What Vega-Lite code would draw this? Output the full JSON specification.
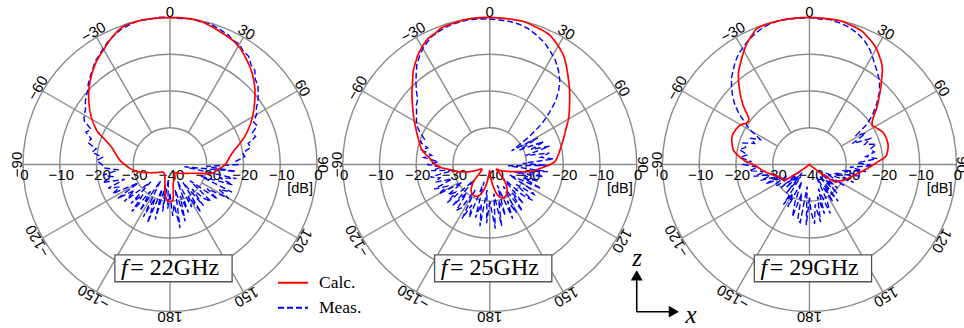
{
  "$schema": "https://vega.github.io/schema/vega-lite/v6.json",
  "width": 964,
  "height": 328,
  "padding": 0,
  "autosize": {"type": "none"},
  "background": "white",
  "config": {"view": {"stroke": null}},
  "encoding": {
    "x": {"field": "x", "type": "quantitative", "scale": {"domain": [-46.259, 216.054], "nice": false, "zero": false}, "axis": null},
    "y": {"field": "y", "type": "quantitative", "scale": {"domain": [-44.49, 44.762], "nice": false, "zero": false}, "axis": null}
  },
  "datasets": {
    "rings": [{"r": 10, "p": [0, 1, 2]}, {"r": 20, "p": [0, 1, 2]}, {"r": 30, "p": [0, 1, 2]}, {"r": 40, "p": [0, 1, 2]}],
    "spokes": [{"a": 0, "p": [0, 1, 2]}, {"a": 30, "p": [0, 1, 2]}, {"a": 60, "p": [0, 1, 2]}, {"a": 120, "p": [0, 1, 2]}, {"a": 150, "p": [0, 1, 2]}, {"a": 180, "p": [0, 1, 2]}, {"a": -30, "p": [0, 1, 2]}, {"a": -60, "p": [0, 1, 2]}, {"a": -120, "p": [0, 1, 2]}, {"a": -150, "p": [0, 1, 2]}],
    "angleLabels": [{"a": 0, "t": "0", "p": [0, 1, 2]}, {"a": 30, "t": "30", "p": [0, 1, 2]}, {"a": 60, "t": "60", "p": [0, 1, 2]}, {"a": 90, "t": "90", "p": [0, 1, 2]}, {"a": 120, "t": "120", "p": [0, 1, 2]}, {"a": 150, "t": "150", "p": [0, 1, 2]}, {"a": 180, "t": "180", "p": [0, 1, 2]}, {"a": -150, "t": "−150", "p": [0, 1, 2]}, {"a": -120, "t": "−120", "p": [0, 1, 2]}, {"a": -90, "t": "−90", "p": [0, 1, 2]}, {"a": -60, "t": "−60", "p": [0, 1, 2]}, {"a": -30, "t": "−30", "p": [0, 1, 2]}],
    "dbLabels": [{"db": 0, "k": -1, "t": "0", "p": [0, 1, 2]}, {"db": -10, "k": -1, "t": "−10", "p": [0, 1, 2]}, {"db": -20, "k": -1, "t": "−20", "p": [0, 1, 2]}, {"db": -30, "k": -1, "t": "−30", "p": [0, 1, 2]}, {"db": -40, "k": 0, "t": "−40", "p": [0, 1, 2]}, {"db": -30, "k": 1, "t": "−30", "p": [0, 1, 2]}, {"db": -20, "k": 1, "t": "−20", "p": [0, 1, 2]}, {"db": -10, "k": 1, "t": "−10", "p": [0, 1, 2]}, {"db": 0, "k": 1, "t": "0", "p": [0, 1, 2]}],
    "panels": [{"p": 0, "f": "22GHz"}, {"p": 1, "f": "25GHz"}, {"p": 2, "f": "29GHz"}],
    "pattern": [
      {"p":0,"s":"Calc.","a":-180,"d":-29.9},{"p":0,"s":"Calc.","a":-175,"d":-30.3},{"p":0,"s":"Calc.","a":-170,"d":-32.2},{"p":0,"s":"Calc.","a":-165,"d":-34.7},{"p":0,"s":"Calc.","a":-160,"d":-36},{"p":0,"s":"Calc.","a":-150,"d":-37},{"p":0,"s":"Calc.","a":-140,"d":-37.2},{"p":0,"s":"Calc.","a":-130,"d":-36.8},{"p":0,"s":"Calc.","a":-120,"d":-35.6},{"p":0,"s":"Calc.","a":-110,"d":-33.5},{"p":0,"s":"Calc.","a":-103,"d":-31.2},{"p":0,"s":"Calc.","a":-96,"d":-29.2},{"p":0,"s":"Calc.","a":-87,"d":-26.8},{"p":0,"s":"Calc.","a":-80,"d":-25.2},{"p":0,"s":"Calc.","a":-74,"d":-23.6},{"p":0,"s":"Calc.","a":-69,"d":-21},{"p":0,"s":"Calc.","a":-65,"d":-18},{"p":0,"s":"Calc.","a":-58,"d":-14.6},{"p":0,"s":"Calc.","a":-50,"d":-11.1},{"p":0,"s":"Calc.","a":-43,"d":-8.3},{"p":0,"s":"Calc.","a":-36,"d":-5.7},{"p":0,"s":"Calc.","a":-30,"d":-3.9},{"p":0,"s":"Calc.","a":-24,"d":-1.8},{"p":0,"s":"Calc.","a":-18,"d":-0.3},{"p":0,"s":"Calc.","a":-10,"d":0},{"p":0,"s":"Calc.","a":0,"d":0},{"p":0,"s":"Calc.","a":8,"d":0},{"p":0,"s":"Calc.","a":14,"d":-0.4},{"p":0,"s":"Calc.","a":24,"d":-1.8},{"p":0,"s":"Calc.","a":30,"d":-2.8},{"p":0,"s":"Calc.","a":35,"d":-4.3},{"p":0,"s":"Calc.","a":42,"d":-6.6},{"p":0,"s":"Calc.","a":50,"d":-9.8},{"p":0,"s":"Calc.","a":60,"d":-14.1},{"p":0,"s":"Calc.","a":69,"d":-18.1},{"p":0,"s":"Calc.","a":80,"d":-22.9},{"p":0,"s":"Calc.","a":90,"d":-25},{"p":0,"s":"Calc.","a":96,"d":-27},{"p":0,"s":"Calc.","a":102,"d":-28.4},{"p":0,"s":"Calc.","a":108,"d":-32.3},{"p":0,"s":"Calc.","a":118,"d":-34.9},{"p":0,"s":"Calc.","a":135,"d":-36.6},{"p":0,"s":"Calc.","a":150,"d":-37.4},{"p":0,"s":"Calc.","a":160,"d":-36},{"p":0,"s":"Calc.","a":170,"d":-34.8},{"p":0,"s":"Calc.","a":175,"d":-30.5},{"p":0,"s":"Calc.","a":180,"d":-29.9},
      {"p":0,"s":"Meas.","a":-180,"d":-32},{"p":0,"s":"Meas.","a":-177,"d":-28},{"p":0,"s":"Meas.","a":-174,"d":-36},{"p":0,"s":"Meas.","a":-171,"d":-27},{"p":0,"s":"Meas.","a":-168,"d":-34},{"p":0,"s":"Meas.","a":-165,"d":-24.5},{"p":0,"s":"Meas.","a":-162,"d":-33},{"p":0,"s":"Meas.","a":-159,"d":-23},{"p":0,"s":"Meas.","a":-156,"d":-30},{"p":0,"s":"Meas.","a":-153,"d":-24},{"p":0,"s":"Meas.","a":-150,"d":-35},{"p":0,"s":"Meas.","a":-147,"d":-25},{"p":0,"s":"Meas.","a":-144,"d":-31},{"p":0,"s":"Meas.","a":-141,"d":-23.5},{"p":0,"s":"Meas.","a":-138,"d":-29},{"p":0,"s":"Meas.","a":-135,"d":-25},{"p":0,"s":"Meas.","a":-132,"d":-33},{"p":0,"s":"Meas.","a":-129,"d":-24},{"p":0,"s":"Meas.","a":-126,"d":-28},{"p":0,"s":"Meas.","a":-123,"d":-23},{"p":0,"s":"Meas.","a":-120,"d":-30},{"p":0,"s":"Meas.","a":-117,"d":-22.5},{"p":0,"s":"Meas.","a":-114,"d":-25},{"p":0,"s":"Meas.","a":-111,"d":-22},{"p":0,"s":"Meas.","a":-108,"d":-27},{"p":0,"s":"Meas.","a":-105,"d":-21},{"p":0,"s":"Meas.","a":-102,"d":-24},{"p":0,"s":"Meas.","a":-99,"d":-21.5},{"p":0,"s":"Meas.","a":-96,"d":-26},{"p":0,"s":"Meas.","a":-93,"d":-22},{"p":0,"s":"Meas.","a":-90,"d":-21.5},{"p":0,"s":"Meas.","a":-87,"d":-20},{"p":0,"s":"Meas.","a":-84,"d":-21.5},{"p":0,"s":"Meas.","a":-81,"d":-18.5},{"p":0,"s":"Meas.","a":-78,"d":-19.5},{"p":0,"s":"Meas.","a":-75,"d":-16.8},{"p":0,"s":"Meas.","a":-72,"d":-17.5},{"p":0,"s":"Meas.","a":-69,"d":-15.5},{"p":0,"s":"Meas.","a":-66,"d":-16.5},{"p":0,"s":"Meas.","a":-63,"d":-13.8},{"p":0,"s":"Meas.","a":-60,"d":-13},{"p":0,"s":"Meas.","a":-57,"d":-12.6},{"p":0,"s":"Meas.","a":-54,"d":-11.5},{"p":0,"s":"Meas.","a":-51,"d":-10.6},{"p":0,"s":"Meas.","a":-48,"d":-9.9},{"p":0,"s":"Meas.","a":-45,"d":-8.6},{"p":0,"s":"Meas.","a":-42,"d":-7.6},{"p":0,"s":"Meas.","a":-39,"d":-6.6},{"p":0,"s":"Meas.","a":-36,"d":-5.3},{"p":0,"s":"Meas.","a":-33,"d":-4.6},{"p":0,"s":"Meas.","a":-30,"d":-3.6},{"p":0,"s":"Meas.","a":-27,"d":-2.6},{"p":0,"s":"Meas.","a":-24,"d":-1.9},{"p":0,"s":"Meas.","a":-20,"d":-0.9},{"p":0,"s":"Meas.","a":-16,"d":-0.4},{"p":0,"s":"Meas.","a":-12,"d":0.1},{"p":0,"s":"Meas.","a":-8,"d":-0.1},{"p":0,"s":"Meas.","a":-4,"d":0.2},{"p":0,"s":"Meas.","a":0,"d":0},{"p":0,"s":"Meas.","a":4,"d":-0.2},{"p":0,"s":"Meas.","a":8,"d":0.1},{"p":0,"s":"Meas.","a":12,"d":-0.3},{"p":0,"s":"Meas.","a":16,"d":-0.2},{"p":0,"s":"Meas.","a":20,"d":-0.8},{"p":0,"s":"Meas.","a":24,"d":-1.3},{"p":0,"s":"Meas.","a":27,"d":-2.1},{"p":0,"s":"Meas.","a":30,"d":-2.2},{"p":0,"s":"Meas.","a":33,"d":-3.3},{"p":0,"s":"Meas.","a":36,"d":-3.6},{"p":0,"s":"Meas.","a":39,"d":-5},{"p":0,"s":"Meas.","a":42,"d":-5.5},{"p":0,"s":"Meas.","a":45,"d":-7.2},{"p":0,"s":"Meas.","a":48,"d":-7.8},{"p":0,"s":"Meas.","a":51,"d":-9.1},{"p":0,"s":"Meas.","a":54,"d":-10.4},{"p":0,"s":"Meas.","a":57,"d":-12},{"p":0,"s":"Meas.","a":60,"d":-12.8},{"p":0,"s":"Meas.","a":63,"d":-14.5},{"p":0,"s":"Meas.","a":66,"d":-14},{"p":0,"s":"Meas.","a":69,"d":-16},{"p":0,"s":"Meas.","a":72,"d":-15.5},{"p":0,"s":"Meas.","a":75,"d":-18},{"p":0,"s":"Meas.","a":78,"d":-17.5},{"p":0,"s":"Meas.","a":81,"d":-20},{"p":0,"s":"Meas.","a":84,"d":-19.5},{"p":0,"s":"Meas.","a":87,"d":-22},{"p":0,"s":"Meas.","a":90,"d":-21.5},{"p":0,"s":"Meas.","a":93,"d":-30},{"p":0,"s":"Meas.","a":96,"d":-22},{"p":0,"s":"Meas.","a":99,"d":-36},{"p":0,"s":"Meas.","a":102,"d":-21.5},{"p":0,"s":"Meas.","a":105,"d":-26},{"p":0,"s":"Meas.","a":108,"d":-22},{"p":0,"s":"Meas.","a":111,"d":-31},{"p":0,"s":"Meas.","a":114,"d":-21.5},{"p":0,"s":"Meas.","a":117,"d":-25},{"p":0,"s":"Meas.","a":120,"d":-21.5},{"p":0,"s":"Meas.","a":123,"d":-28},{"p":0,"s":"Meas.","a":126,"d":-24},{"p":0,"s":"Meas.","a":129,"d":-33},{"p":0,"s":"Meas.","a":132,"d":-25},{"p":0,"s":"Meas.","a":135,"d":-27},{"p":0,"s":"Meas.","a":138,"d":-31},{"p":0,"s":"Meas.","a":141,"d":-25.5},{"p":0,"s":"Meas.","a":144,"d":-34},{"p":0,"s":"Meas.","a":147,"d":-24.5},{"p":0,"s":"Meas.","a":150,"d":-30},{"p":0,"s":"Meas.","a":153,"d":-27},{"p":0,"s":"Meas.","a":156,"d":-35},{"p":0,"s":"Meas.","a":159,"d":-26},{"p":0,"s":"Meas.","a":162,"d":-31},{"p":0,"s":"Meas.","a":165,"d":-24},{"p":0,"s":"Meas.","a":168,"d":-33},{"p":0,"s":"Meas.","a":171,"d":-22.5},{"p":0,"s":"Meas.","a":174,"d":-29},{"p":0,"s":"Meas.","a":177,"d":-26},{"p":0,"s":"Meas.","a":180,"d":-32},
      {"p":1,"s":"Calc.","a":-180,"d":-38.5},{"p":1,"s":"Calc.","a":-176,"d":-37.5},{"p":1,"s":"Calc.","a":-170,"d":-34.3},{"p":1,"s":"Calc.","a":-163,"d":-31.5},{"p":1,"s":"Calc.","a":-155,"d":-30.5},{"p":1,"s":"Calc.","a":-145,"d":-31.2},{"p":1,"s":"Calc.","a":-137,"d":-33.5},{"p":1,"s":"Calc.","a":-130,"d":-36.5},{"p":1,"s":"Calc.","a":-123,"d":-37.5},{"p":1,"s":"Calc.","a":-116,"d":-37},{"p":1,"s":"Calc.","a":-110,"d":-34.3},{"p":1,"s":"Calc.","a":-103,"d":-31.2},{"p":1,"s":"Calc.","a":-99,"d":-30},{"p":1,"s":"Calc.","a":-94,"d":-27},{"p":1,"s":"Calc.","a":-90,"d":-25.2},{"p":1,"s":"Calc.","a":-84,"d":-23.5},{"p":1,"s":"Calc.","a":-78,"d":-21.2},{"p":1,"s":"Calc.","a":-72,"d":-19.8},{"p":1,"s":"Calc.","a":-67,"d":-18.5},{"p":1,"s":"Calc.","a":-62,"d":-17},{"p":1,"s":"Calc.","a":-58,"d":-15.6},{"p":1,"s":"Calc.","a":-52,"d":-13.3},{"p":1,"s":"Calc.","a":-47.5,"d":-11.3},{"p":1,"s":"Calc.","a":-43,"d":-9.2},{"p":1,"s":"Calc.","a":-39,"d":-7},{"p":1,"s":"Calc.","a":-35,"d":-5.2},{"p":1,"s":"Calc.","a":-32.6,"d":-4.1},{"p":1,"s":"Calc.","a":-27,"d":-2.1},{"p":1,"s":"Calc.","a":-22,"d":-1.2},{"p":1,"s":"Calc.","a":-18.5,"d":-0.5},{"p":1,"s":"Calc.","a":-9,"d":0},{"p":1,"s":"Calc.","a":0,"d":0},{"p":1,"s":"Calc.","a":12,"d":0},{"p":1,"s":"Calc.","a":18,"d":-0.5},{"p":1,"s":"Calc.","a":24,"d":-1.05},{"p":1,"s":"Calc.","a":28,"d":-2.1},{"p":1,"s":"Calc.","a":32,"d":-3.4},{"p":1,"s":"Calc.","a":35,"d":-4.6},{"p":1,"s":"Calc.","a":38,"d":-6.1},{"p":1,"s":"Calc.","a":42,"d":-8.1},{"p":1,"s":"Calc.","a":47,"d":-10.3},{"p":1,"s":"Calc.","a":53,"d":-12.8},{"p":1,"s":"Calc.","a":59,"d":-14.9},{"p":1,"s":"Calc.","a":65,"d":-17.1},{"p":1,"s":"Calc.","a":71,"d":-18.8},{"p":1,"s":"Calc.","a":77,"d":-20.2},{"p":1,"s":"Calc.","a":82,"d":-21.2},{"p":1,"s":"Calc.","a":88,"d":-22.5},{"p":1,"s":"Calc.","a":94,"d":-26},{"p":1,"s":"Calc.","a":100,"d":-29},{"p":1,"s":"Calc.","a":105,"d":-32.6},{"p":1,"s":"Calc.","a":110,"d":-34.4},{"p":1,"s":"Calc.","a":118,"d":-36.5},{"p":1,"s":"Calc.","a":125,"d":-37.8},{"p":1,"s":"Calc.","a":132,"d":-36.5},{"p":1,"s":"Calc.","a":138,"d":-34},{"p":1,"s":"Calc.","a":144,"d":-32},{"p":1,"s":"Calc.","a":150,"d":-30.8},{"p":1,"s":"Calc.","a":156,"d":-30.2},{"p":1,"s":"Calc.","a":162,"d":-30.6},{"p":1,"s":"Calc.","a":167,"d":-32},{"p":1,"s":"Calc.","a":172,"d":-34.5},{"p":1,"s":"Calc.","a":176,"d":-36.8},{"p":1,"s":"Calc.","a":180,"d":-38.5},
      {"p":1,"s":"Meas.","a":-180,"d":-30},{"p":1,"s":"Meas.","a":-177,"d":-24},{"p":1,"s":"Meas.","a":-174,"d":-33},{"p":1,"s":"Meas.","a":-171,"d":-23},{"p":1,"s":"Meas.","a":-168,"d":-29},{"p":1,"s":"Meas.","a":-165,"d":-25},{"p":1,"s":"Meas.","a":-162,"d":-35},{"p":1,"s":"Meas.","a":-159,"d":-24.5},{"p":1,"s":"Meas.","a":-156,"d":-28},{"p":1,"s":"Meas.","a":-153,"d":-23.5},{"p":1,"s":"Meas.","a":-150,"d":-32},{"p":1,"s":"Meas.","a":-147,"d":-26},{"p":1,"s":"Meas.","a":-144,"d":-24.5},{"p":1,"s":"Meas.","a":-141,"d":-30},{"p":1,"s":"Meas.","a":-138,"d":-25},{"p":1,"s":"Meas.","a":-135,"d":-34},{"p":1,"s":"Meas.","a":-132,"d":-24.5},{"p":1,"s":"Meas.","a":-129,"d":-28},{"p":1,"s":"Meas.","a":-126,"d":-26},{"p":1,"s":"Meas.","a":-123,"d":-31},{"p":1,"s":"Meas.","a":-120,"d":-24},{"p":1,"s":"Meas.","a":-117,"d":-27},{"p":1,"s":"Meas.","a":-114,"d":-23.5},{"p":1,"s":"Meas.","a":-111,"d":-29},{"p":1,"s":"Meas.","a":-108,"d":-24.5},{"p":1,"s":"Meas.","a":-105,"d":-26},{"p":1,"s":"Meas.","a":-102,"d":-23.5},{"p":1,"s":"Meas.","a":-99,"d":-30},{"p":1,"s":"Meas.","a":-96,"d":-24},{"p":1,"s":"Meas.","a":-93,"d":-27},{"p":1,"s":"Meas.","a":-90,"d":-23},{"p":1,"s":"Meas.","a":-87,"d":-26},{"p":1,"s":"Meas.","a":-84,"d":-22},{"p":1,"s":"Meas.","a":-81,"d":-24},{"p":1,"s":"Meas.","a":-78,"d":-21},{"p":1,"s":"Meas.","a":-75,"d":-22.5},{"p":1,"s":"Meas.","a":-72,"d":-20},{"p":1,"s":"Meas.","a":-69,"d":-21},{"p":1,"s":"Meas.","a":-66,"d":-19.5},{"p":1,"s":"Meas.","a":-63,"d":-18},{"p":1,"s":"Meas.","a":-60,"d":-17},{"p":1,"s":"Meas.","a":-57,"d":-16.2},{"p":1,"s":"Meas.","a":-54,"d":-15.4},{"p":1,"s":"Meas.","a":-51,"d":-14.3},{"p":1,"s":"Meas.","a":-48,"d":-13.6},{"p":1,"s":"Meas.","a":-45,"d":-11.8},{"p":1,"s":"Meas.","a":-42,"d":-10},{"p":1,"s":"Meas.","a":-39,"d":-8.2},{"p":1,"s":"Meas.","a":-36,"d":-6.3},{"p":1,"s":"Meas.","a":-33,"d":-4.9},{"p":1,"s":"Meas.","a":-30,"d":-3.6},{"p":1,"s":"Meas.","a":-27,"d":-2.6},{"p":1,"s":"Meas.","a":-24,"d":-1.7},{"p":1,"s":"Meas.","a":-20,"d":-1.1},{"p":1,"s":"Meas.","a":-16,"d":-0.6},{"p":1,"s":"Meas.","a":-12,"d":-0.4},{"p":1,"s":"Meas.","a":-8,"d":-0.2},{"p":1,"s":"Meas.","a":-4,"d":-0.3},{"p":1,"s":"Meas.","a":0,"d":-0.4},{"p":1,"s":"Meas.","a":4,"d":-0.6},{"p":1,"s":"Meas.","a":8,"d":-0.7},{"p":1,"s":"Meas.","a":12,"d":-1},{"p":1,"s":"Meas.","a":16,"d":-1.6},{"p":1,"s":"Meas.","a":20,"d":-2.6},{"p":1,"s":"Meas.","a":24,"d":-3.6},{"p":1,"s":"Meas.","a":28,"d":-5},{"p":1,"s":"Meas.","a":32,"d":-6.4},{"p":1,"s":"Meas.","a":36,"d":-8.2},{"p":1,"s":"Meas.","a":40,"d":-10.3},{"p":1,"s":"Meas.","a":43,"d":-12.5},{"p":1,"s":"Meas.","a":46,"d":-15},{"p":1,"s":"Meas.","a":49,"d":-18.5},{"p":1,"s":"Meas.","a":52,"d":-22},{"p":1,"s":"Meas.","a":55,"d":-27},{"p":1,"s":"Meas.","a":58,"d":-33},{"p":1,"s":"Meas.","a":61,"d":-25},{"p":1,"s":"Meas.","a":64,"d":-31},{"p":1,"s":"Meas.","a":67,"d":-24},{"p":1,"s":"Meas.","a":70,"d":-28},{"p":1,"s":"Meas.","a":73,"d":-23},{"p":1,"s":"Meas.","a":76,"d":-30},{"p":1,"s":"Meas.","a":79,"d":-23.5},{"p":1,"s":"Meas.","a":82,"d":-26},{"p":1,"s":"Meas.","a":85,"d":-22.5},{"p":1,"s":"Meas.","a":88,"d":-31},{"p":1,"s":"Meas.","a":91,"d":-24},{"p":1,"s":"Meas.","a":94,"d":-35},{"p":1,"s":"Meas.","a":97,"d":-24},{"p":1,"s":"Meas.","a":100,"d":-29},{"p":1,"s":"Meas.","a":103,"d":-25},{"p":1,"s":"Meas.","a":106,"d":-33},{"p":1,"s":"Meas.","a":109,"d":-26},{"p":1,"s":"Meas.","a":112,"d":-30},{"p":1,"s":"Meas.","a":115,"d":-24.5},{"p":1,"s":"Meas.","a":118,"d":-34},{"p":1,"s":"Meas.","a":121,"d":-27},{"p":1,"s":"Meas.","a":124,"d":-25.5},{"p":1,"s":"Meas.","a":127,"d":-31},{"p":1,"s":"Meas.","a":130,"d":-24.8},{"p":1,"s":"Meas.","a":133,"d":-28},{"p":1,"s":"Meas.","a":136,"d":-35},{"p":1,"s":"Meas.","a":139,"d":-26},{"p":1,"s":"Meas.","a":142,"d":-30},{"p":1,"s":"Meas.","a":145,"d":-24.5},{"p":1,"s":"Meas.","a":148,"d":-33},{"p":1,"s":"Meas.","a":151,"d":-25},{"p":1,"s":"Meas.","a":154,"d":-29},{"p":1,"s":"Meas.","a":157,"d":-24},{"p":1,"s":"Meas.","a":160,"d":-34},{"p":1,"s":"Meas.","a":163,"d":-25.5},{"p":1,"s":"Meas.","a":166,"d":-30},{"p":1,"s":"Meas.","a":169,"d":-23},{"p":1,"s":"Meas.","a":172,"d":-32},{"p":1,"s":"Meas.","a":175,"d":-22.5},{"p":1,"s":"Meas.","a":178,"d":-28},{"p":1,"s":"Meas.","a":180,"d":-30},
      {"p":2,"s":"Calc.","a":-180,"d":-40},{"p":2,"s":"Calc.","a":-130,"d":-40},{"p":2,"s":"Calc.","a":-127,"d":-38.5},{"p":2,"s":"Calc.","a":-125,"d":-35.9},{"p":2,"s":"Calc.","a":-122,"d":-32},{"p":2,"s":"Calc.","a":-115,"d":-31.5},{"p":2,"s":"Calc.","a":-107,"d":-30},{"p":2,"s":"Calc.","a":-100,"d":-28},{"p":2,"s":"Calc.","a":-95,"d":-26.5},{"p":2,"s":"Calc.","a":-90.5,"d":-25},{"p":2,"s":"Calc.","a":-86,"d":-22},{"p":2,"s":"Calc.","a":-80,"d":-19.2},{"p":2,"s":"Calc.","a":-75,"d":-18.2},{"p":2,"s":"Calc.","a":-70,"d":-17.6},{"p":2,"s":"Calc.","a":-65,"d":-17.8},{"p":2,"s":"Calc.","a":-60,"d":-18.4},{"p":2,"s":"Calc.","a":-56.5,"d":-19.5},{"p":2,"s":"Calc.","a":-52.7,"d":-19.2},{"p":2,"s":"Calc.","a":-48.7,"d":-16.2},{"p":2,"s":"Calc.","a":-45,"d":-13.5},{"p":2,"s":"Calc.","a":-41,"d":-10.7},{"p":2,"s":"Calc.","a":-37.5,"d":-8.3},{"p":2,"s":"Calc.","a":-34.3,"d":-6.7},{"p":2,"s":"Calc.","a":-30.5,"d":-4.6},{"p":2,"s":"Calc.","a":-27.2,"d":-2.9},{"p":2,"s":"Calc.","a":-23.5,"d":-1.3},{"p":2,"s":"Calc.","a":-19.6,"d":-0.2},{"p":2,"s":"Calc.","a":-10,"d":0},{"p":2,"s":"Calc.","a":0,"d":0},{"p":2,"s":"Calc.","a":10.8,"d":0},{"p":2,"s":"Calc.","a":16,"d":-0.4},{"p":2,"s":"Calc.","a":20.8,"d":-0.9},{"p":2,"s":"Calc.","a":25,"d":-2},{"p":2,"s":"Calc.","a":29.3,"d":-3.3},{"p":2,"s":"Calc.","a":33,"d":-5},{"p":2,"s":"Calc.","a":36.6,"d":-6.8},{"p":2,"s":"Calc.","a":40,"d":-9.4},{"p":2,"s":"Calc.","a":43.6,"d":-12},{"p":2,"s":"Calc.","a":46.5,"d":-14},{"p":2,"s":"Calc.","a":49.5,"d":-15.8},{"p":2,"s":"Calc.","a":54,"d":-18.6},{"p":2,"s":"Calc.","a":57.8,"d":-19.8},{"p":2,"s":"Calc.","a":61,"d":-19.3},{"p":2,"s":"Calc.","a":67.2,"d":-18.1},{"p":2,"s":"Calc.","a":74.8,"d":-17.9},{"p":2,"s":"Calc.","a":80,"d":-18.4},{"p":2,"s":"Calc.","a":84.1,"d":-19.2},{"p":2,"s":"Calc.","a":88,"d":-21.5},{"p":2,"s":"Calc.","a":93.7,"d":-24.1},{"p":2,"s":"Calc.","a":100,"d":-26.5},{"p":2,"s":"Calc.","a":107,"d":-28.3},{"p":2,"s":"Calc.","a":114,"d":-29.6},{"p":2,"s":"Calc.","a":119,"d":-30.8},{"p":2,"s":"Calc.","a":124.5,"d":-31.7},{"p":2,"s":"Calc.","a":127,"d":-35.7},{"p":2,"s":"Calc.","a":130,"d":-39},{"p":2,"s":"Calc.","a":133,"d":-40},{"p":2,"s":"Calc.","a":180,"d":-40},
      {"p":2,"s":"Meas.","a":-180,"d":-31},{"p":2,"s":"Meas.","a":-177,"d":-23.5},{"p":2,"s":"Meas.","a":-174,"d":-34},{"p":2,"s":"Meas.","a":-171,"d":-24},{"p":2,"s":"Meas.","a":-168,"d":-24.5},{"p":2,"s":"Meas.","a":-165,"d":-32},{"p":2,"s":"Meas.","a":-162,"d":-25},{"p":2,"s":"Meas.","a":-159,"d":-29},{"p":2,"s":"Meas.","a":-156,"d":-35},{"p":2,"s":"Meas.","a":-153,"d":-27},{"p":2,"s":"Meas.","a":-150,"d":-31},{"p":2,"s":"Meas.","a":-147,"d":-27},{"p":2,"s":"Meas.","a":-144,"d":-36},{"p":2,"s":"Meas.","a":-141,"d":-30},{"p":2,"s":"Meas.","a":-138,"d":-37},{"p":2,"s":"Meas.","a":-135,"d":-31},{"p":2,"s":"Meas.","a":-132,"d":-35},{"p":2,"s":"Meas.","a":-129,"d":-30},{"p":2,"s":"Meas.","a":-126,"d":-37},{"p":2,"s":"Meas.","a":-123,"d":-29.5},{"p":2,"s":"Meas.","a":-120,"d":-29},{"p":2,"s":"Meas.","a":-117,"d":-33},{"p":2,"s":"Meas.","a":-114,"d":-27},{"p":2,"s":"Meas.","a":-111,"d":-31},{"p":2,"s":"Meas.","a":-108,"d":-26},{"p":2,"s":"Meas.","a":-105,"d":-30},{"p":2,"s":"Meas.","a":-102,"d":-24.5},{"p":2,"s":"Meas.","a":-99,"d":-28},{"p":2,"s":"Meas.","a":-96,"d":-23.5},{"p":2,"s":"Meas.","a":-93,"d":-26},{"p":2,"s":"Meas.","a":-90,"d":-22},{"p":2,"s":"Meas.","a":-87,"d":-24},{"p":2,"s":"Meas.","a":-84,"d":-21},{"p":2,"s":"Meas.","a":-81,"d":-23},{"p":2,"s":"Meas.","a":-78,"d":-20.5},{"p":2,"s":"Meas.","a":-75,"d":-22},{"p":2,"s":"Meas.","a":-72,"d":-21},{"p":2,"s":"Meas.","a":-69,"d":-24},{"p":2,"s":"Meas.","a":-66,"d":-22.5},{"p":2,"s":"Meas.","a":-63,"d":-25},{"p":2,"s":"Meas.","a":-60,"d":-21.5},{"p":2,"s":"Meas.","a":-57,"d":-19},{"p":2,"s":"Meas.","a":-54,"d":-16.2},{"p":2,"s":"Meas.","a":-51,"d":-13.8},{"p":2,"s":"Meas.","a":-48,"d":-11.8},{"p":2,"s":"Meas.","a":-45,"d":-10},{"p":2,"s":"Meas.","a":-42,"d":-8.3},{"p":2,"s":"Meas.","a":-39,"d":-7},{"p":2,"s":"Meas.","a":-36,"d":-5.6},{"p":2,"s":"Meas.","a":-33,"d":-4.4},{"p":2,"s":"Meas.","a":-30,"d":-3.5},{"p":2,"s":"Meas.","a":-27,"d":-2.6},{"p":2,"s":"Meas.","a":-24,"d":-1.8},{"p":2,"s":"Meas.","a":-20,"d":-0.9},{"p":2,"s":"Meas.","a":-16,"d":-0.3},{"p":2,"s":"Meas.","a":-12,"d":0},{"p":2,"s":"Meas.","a":-8,"d":0},{"p":2,"s":"Meas.","a":-4,"d":-0.1},{"p":2,"s":"Meas.","a":0,"d":0},{"p":2,"s":"Meas.","a":4,"d":-0.3},{"p":2,"s":"Meas.","a":8,"d":-0.2},{"p":2,"s":"Meas.","a":12,"d":-0.6},{"p":2,"s":"Meas.","a":16,"d":-1.1},{"p":2,"s":"Meas.","a":20,"d":-2},{"p":2,"s":"Meas.","a":24,"d":-3.1},{"p":2,"s":"Meas.","a":28,"d":-4.8},{"p":2,"s":"Meas.","a":32,"d":-6.9},{"p":2,"s":"Meas.","a":36,"d":-8.7},{"p":2,"s":"Meas.","a":40,"d":-10.3},{"p":2,"s":"Meas.","a":44,"d":-12.6},{"p":2,"s":"Meas.","a":48,"d":-15.4},{"p":2,"s":"Meas.","a":52,"d":-18.3},{"p":2,"s":"Meas.","a":55,"d":-21},{"p":2,"s":"Meas.","a":58,"d":-25},{"p":2,"s":"Meas.","a":61,"d":-22.5},{"p":2,"s":"Meas.","a":64,"d":-27},{"p":2,"s":"Meas.","a":67,"d":-22},{"p":2,"s":"Meas.","a":70,"d":-24},{"p":2,"s":"Meas.","a":73,"d":-21},{"p":2,"s":"Meas.","a":76,"d":-23},{"p":2,"s":"Meas.","a":79,"d":-22},{"p":2,"s":"Meas.","a":82,"d":-24.5},{"p":2,"s":"Meas.","a":85,"d":-21.5},{"p":2,"s":"Meas.","a":88,"d":-27},{"p":2,"s":"Meas.","a":91,"d":-22.5},{"p":2,"s":"Meas.","a":94,"d":-29},{"p":2,"s":"Meas.","a":97,"d":-24.5},{"p":2,"s":"Meas.","a":100,"d":-31},{"p":2,"s":"Meas.","a":103,"d":-26},{"p":2,"s":"Meas.","a":106,"d":-30},{"p":2,"s":"Meas.","a":109,"d":-33},{"p":2,"s":"Meas.","a":112,"d":-27},{"p":2,"s":"Meas.","a":115,"d":-32},{"p":2,"s":"Meas.","a":118,"d":-35},{"p":2,"s":"Meas.","a":121,"d":-29},{"p":2,"s":"Meas.","a":124,"d":-33},{"p":2,"s":"Meas.","a":127,"d":-37},{"p":2,"s":"Meas.","a":130,"d":-30},{"p":2,"s":"Meas.","a":133,"d":-34},{"p":2,"s":"Meas.","a":136,"d":-29},{"p":2,"s":"Meas.","a":139,"d":-36},{"p":2,"s":"Meas.","a":142,"d":-27.3},{"p":2,"s":"Meas.","a":145,"d":-33},{"p":2,"s":"Meas.","a":148,"d":-28},{"p":2,"s":"Meas.","a":151,"d":-36},{"p":2,"s":"Meas.","a":154,"d":-29},{"p":2,"s":"Meas.","a":157,"d":-25.5},{"p":2,"s":"Meas.","a":160,"d":-33},{"p":2,"s":"Meas.","a":163,"d":-26},{"p":2,"s":"Meas.","a":166,"d":-31},{"p":2,"s":"Meas.","a":169,"d":-24},{"p":2,"s":"Meas.","a":172,"d":-29},{"p":2,"s":"Meas.","a":175,"d":-23.8},{"p":2,"s":"Meas.","a":178,"d":-27},{"p":2,"s":"Meas.","a":180,"d":-31}
    ],
    "axesKey": [{"k": "origin"}]
  },
  "layer": [
    {
      "data": {"name": "rings"},
      "transform": [{"flatten": ["p"]}, {"calculate": "datum.p * 87", "as": "x"}, {"calculate": "0", "as": "y"}],
      "mark": {"type": "arc", "filled": false, "stroke": "#8c8c8c", "strokeWidth": 1.4, "theta": 0, "theta2": 6.2832},
      "encoding": {
        "radius": {"field": "r", "type": "quantitative", "scale": {"type": "linear", "domain": [0, 40], "range": [0, 147], "zero": true}},
        "radius2": {"datum": 0}
      }
    },
    {
      "data": {"name": "spokes"},
      "transform": [
        {"flatten": ["p"]},
        {"calculate": "datum.p * 87 + 10 * sin(datum.a * PI / 180)", "as": "x"},
        {"calculate": "10 * cos(datum.a * PI / 180)", "as": "y"},
        {"calculate": "datum.p * 87 + 40 * sin(datum.a * PI / 180)", "as": "x2"},
        {"calculate": "40 * cos(datum.a * PI / 180)", "as": "y2"}
      ],
      "mark": {"type": "rule", "stroke": "#8c8c8c", "strokeWidth": 1.4},
      "encoding": {"x2": {"field": "x2"}, "y2": {"field": "y2"}}
    },
    {
      "data": {"name": "panels"},
      "transform": [
        {"calculate": "datum.p * 87 - 40", "as": "x"},
        {"calculate": "datum.p * 87 + 40", "as": "x2"},
        {"calculate": "0", "as": "y"}
      ],
      "mark": {"type": "rule", "stroke": "#8c8c8c", "strokeWidth": 1.4},
      "encoding": {"x2": {"field": "x2"}}
    },
    {
      "data": {"name": "dbLabels"},
      "transform": [
        {"filter": "datum.k != 0"},
        {"flatten": ["p"]},
        {"calculate": "datum.p * 87 + datum.k * (datum.db + 40)", "as": "x"},
        {"calculate": "0", "as": "y"},
        {"calculate": "-0.9", "as": "y2"}
      ],
      "mark": {"type": "rule", "stroke": "#8c8c8c", "strokeWidth": 1.2},
      "encoding": {"y2": {"field": "y2"}}
    },
    {
      "data": {"name": "angleLabels"},
      "transform": [
        {"flatten": ["p"]},
        {"calculate": "datum.p * 87 + 41.6 * sin(datum.a * PI / 180)", "as": "x"},
        {"calculate": "41.6 * cos(datum.a * PI / 180)", "as": "y"}
      ],
      "mark": {"type": "text", "font": "Liberation Sans", "fontSize": 15, "align": "center", "baseline": "middle", "color": "black"},
      "encoding": {
        "text": {"field": "t"},
        "angle": {"field": "a", "type": "quantitative", "scale": null}
      }
    },
    {
      "data": {"name": "dbLabels"},
      "transform": [
        {"flatten": ["p"]},
        {"calculate": "datum.p * 87 + datum.k * (datum.db + 40)", "as": "x"},
        {"calculate": "-2.95", "as": "y"}
      ],
      "mark": {"type": "text", "font": "Liberation Sans", "fontSize": 15, "align": "center", "baseline": "middle", "dx": 1.5, "color": "black"},
      "encoding": {"text": {"field": "t"}}
    },
    {
      "data": {"name": "panels"},
      "transform": [
        {"calculate": "datum.p * 87 + 35.4", "as": "x"},
        {"calculate": "-6.6", "as": "y"}
      ],
      "mark": {"type": "text", "font": "Liberation Sans", "fontSize": 14.5, "align": "center", "baseline": "middle", "color": "black"},
      "encoding": {"text": {"value": "[dB]"}}
    },
    {
      "data": {"name": "pattern"},
      "transform": [
        {"filter": "datum.s == 'Meas.'"},
        {"calculate": "datum.p * 87 + (max(datum.d, -40) + 40) * sin(datum.a * PI / 180)", "as": "x"},
        {"calculate": "(max(datum.d, -40) + 40) * cos(datum.a * PI / 180)", "as": "y"}
      ],
      "mark": {"type": "line", "strokeWidth": 1.4},
      "encoding": {
        "color": {"field": "s", "type": "nominal", "scale": {"domain": ["Calc.", "Meas."], "range": ["#ff0000", "#0000ff"]}, "legend": {"orient": "none", "legendX": 277, "legendY": 266.8, "title": null, "labelFont": "Liberation Serif", "labelFontSize": 17.5, "labelColor": "black", "symbolType": "stroke", "symbolSize": 900, "symbolStrokeWidth": 2, "labelOffset": 10, "rowPadding": -7.5, "padding": 0}},
        "strokeDash": {"field": "s", "type": "nominal", "scale": {"domain": ["Calc.", "Meas."], "range": [[1, 0], [6, 3]]}},
        "detail": {"field": "p"},
        "order": {"field": "a"}
      }
    },
    {
      "data": {"name": "pattern"},
      "transform": [
        {"filter": "datum.s == 'Calc.'"},
        {"calculate": "datum.p * 87 + (max(datum.d, -40) + 40) * sin(datum.a * PI / 180)", "as": "x"},
        {"calculate": "(max(datum.d, -40) + 40) * cos(datum.a * PI / 180)", "as": "y"}
      ],
      "mark": {"type": "line", "strokeWidth": 1.7, "interpolate": "cardinal"},
      "encoding": {
        "color": {"field": "s", "type": "nominal", "scale": {"domain": ["Calc.", "Meas."], "range": ["#ff0000", "#0000ff"]}},
        "strokeDash": {"field": "s", "type": "nominal", "scale": {"domain": ["Calc.", "Meas."], "range": [[1, 0], [6, 3]]}},
        "detail": {"field": "p"},
        "order": {"field": "a"}
      }
    },
    {
      "data": {"name": "panels"},
      "transform": [
        {"calculate": "datum.p * 87 - 15", "as": "x"},
        {"calculate": "datum.p * 87 + 16.9", "as": "x2"},
        {"calculate": "-24.6", "as": "y"},
        {"calculate": "-31.9", "as": "y2"}
      ],
      "mark": {"type": "rect", "fill": "white", "stroke": "#555555", "strokeWidth": 1.3},
      "encoding": {"x2": {"field": "x2"}, "y2": {"field": "y2"}}
    },
    {
      "data": {"name": "panels"},
      "transform": [
        {"calculate": "datum.p * 87 - 13.3", "as": "x"},
        {"calculate": "-30.07", "as": "y"}
      ],
      "mark": {"type": "text", "font": "Liberation Serif", "fontStyle": "italic", "fontSize": 24, "align": "left", "baseline": "alphabetic", "color": "black"},
      "encoding": {"text": {"value": "f"}}
    },
    {
      "data": {"name": "panels"},
      "transform": [
        {"calculate": "datum.p * 87 - 10.8", "as": "x"},
        {"calculate": "-30.07", "as": "y"},
        {"calculate": "'= ' + datum.f", "as": "lab"}
      ],
      "mark": {"type": "text", "font": "Liberation Serif", "fontSize": 24, "align": "left", "baseline": "alphabetic", "color": "black"},
      "encoding": {"text": {"field": "lab"}}
    },
    {
      "data": {"name": "axesKey"},
      "transform": [
        {"calculate": "127", "as": "x"},
        {"calculate": "-40.05", "as": "y"},
        {"calculate": "-30.8", "as": "y2"}
      ],
      "mark": {"type": "rule", "stroke": "black", "strokeWidth": 1.6},
      "encoding": {"y2": {"field": "y2"}}
    },
    {
      "data": {"name": "axesKey"},
      "transform": [
        {"calculate": "127", "as": "x"},
        {"calculate": "136.3", "as": "x2"},
        {"calculate": "-40.05", "as": "y"}
      ],
      "mark": {"type": "rule", "stroke": "black", "strokeWidth": 1.6},
      "encoding": {"x2": {"field": "x2"}}
    },
    {
      "data": {"name": "axesKey"},
      "transform": [
        {"calculate": "127", "as": "x"},
        {"calculate": "-30.15", "as": "y"}
      ],
      "mark": {"type": "point", "shape": "triangle-up", "filled": true, "color": "black", "size": 140, "opacity": 1}
    },
    {
      "data": {"name": "axesKey"},
      "transform": [
        {"calculate": "137.1", "as": "x"},
        {"calculate": "-40.05", "as": "y"}
      ],
      "mark": {"type": "point", "shape": "triangle-right", "filled": true, "color": "black", "size": 140, "opacity": 1}
    },
    {
      "data": {"name": "axesKey"},
      "transform": [
        {"calculate": "127.1", "as": "x"},
        {"calculate": "-25.4", "as": "y"}
      ],
      "mark": {"type": "text", "font": "Liberation Serif", "fontStyle": "italic", "fontSize": 25, "align": "center", "baseline": "middle", "color": "black"},
      "encoding": {"text": {"value": "z"}}
    },
    {
      "data": {"name": "axesKey"},
      "transform": [
        {"calculate": "141.8", "as": "x"},
        {"calculate": "-40.9", "as": "y"}
      ],
      "mark": {"type": "text", "font": "Liberation Serif", "fontStyle": "italic", "fontSize": 25, "align": "center", "baseline": "middle", "color": "black"},
      "encoding": {"text": {"value": "x"}}
    }
  ]
}
